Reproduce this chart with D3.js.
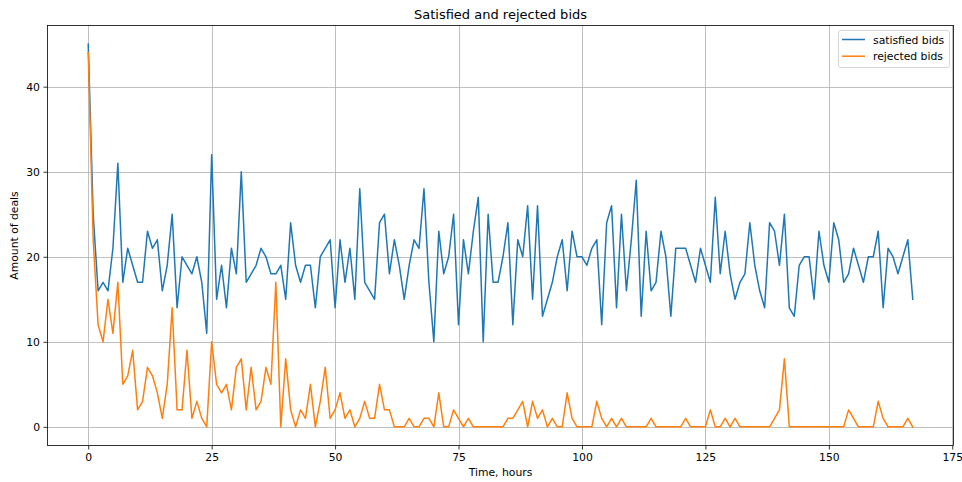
<!DOCTYPE html>
<html>
<head>
<meta charset="utf-8">
<script src="https://cdn.jsdelivr.net/npm/d3@7"></script>
<style>
  html, body { margin: 0; padding: 0; background: #fff; }
  svg { display: block; font-family: "DejaVu Sans", sans-serif; }
</style>
</head>
<body>
<svg id="chart" width="962" height="482"></svg>
<script>
// Hourly counts of bids, one value per hour starting at hour 0
const satisfiedBids = [
  45, 25, 16, 17, 16, 21, 31, 17, 21, 19, 17, 17, 23, 21, 22, 16, 19, 25, 14, 20,
  19, 18, 20, 17, 11, 32, 15, 19, 14, 21, 18, 30, 17, 18, 19, 21, 20, 18, 18, 19,
  15, 24, 19, 17, 19, 19, 14, 20, 21, 22, 14, 22, 17, 21, 15, 28, 17, 16, 15, 24,
  25, 18, 22, 19, 15, 19, 22, 21, 28, 17, 10, 23, 18, 20, 25, 12, 22, 18, 23, 27,
  10, 25, 17, 17, 20, 24, 12, 22, 20, 26, 15, 26, 13, 15, 17, 20, 22, 16, 23, 20,
  20, 19, 21, 22, 12, 24, 26, 14, 25, 16, 22, 29, 13, 23, 16, 17, 23, 20, 13, 21,
  21, 21, 19, 17, 21, 19, 17, 27, 18, 23, 18, 15, 17, 18, 24, 19, 16, 14, 24, 23,
  19, 25, 14, 13, 19, 20, 20, 15, 23, 19, 17, 24, 22, 17, 18, 21, 19, 17, 20, 20,
  23, 14, 21, 20, 18, 20, 22, 15
];
const rejectedBids = [
  44, 22, 12, 10, 15, 11, 17, 5, 6, 9, 2, 3, 7, 6, 4, 1, 5, 14, 2, 2,
  9, 1, 3, 1, 0, 10, 5, 4, 5, 2, 7, 8, 2, 7, 2, 3, 7, 5, 17, 0,
  8, 2, 0, 2, 1, 5, 0, 3, 7, 1, 2, 4, 1, 2, 0, 1, 3, 1, 1, 5,
  2, 2, 0, 0, 0, 1, 0, 0, 1, 1, 0, 4, 0, 0, 2, 1, 0, 1, 0, 0,
  0, 0, 0, 0, 0, 1, 1, 2, 3, 0, 3, 1, 2, 0, 1, 0, 0, 4, 1, 0,
  0, 0, 0, 3, 1, 0, 1, 0, 1, 0, 0, 0, 0, 0, 1, 0, 0, 0, 0, 0,
  0, 1, 0, 0, 0, 0, 2, 0, 0, 1, 0, 1, 0, 0, 0, 0, 0, 0, 0, 1,
  2, 8, 0, 0, 0, 0, 0, 0, 0, 0, 0, 0, 0, 0, 2, 1, 0, 0, 0, 0,
  3, 1, 0, 0, 0, 0, 1, 0
];
const seriesNames = ["satisfied bids", "rejected bids"];
const seriesColors = ["#1f77b4", "#ff7f0e"];
const xTicks = [0, 25, 50, 75, 100, 125, 150, 175];
const yTicks = [0, 10, 20, 30, 40];

const svg = d3.select("#chart");
const W = 962, H = 482;
const margin = { left: 47, right: 8, top: 25, bottom: 36 };
const plotL = margin.left, plotR = W - margin.right;
const plotT = margin.top, plotB = H - margin.bottom;
const baseFont = "10.8px";

// Axis limits padded by 5% of the data span on each side
const n = satisfiedBids.length;
const xMax = n - 1;
const xPad = xMax * 0.05;
const yMax = d3.max([d3.max(satisfiedBids), d3.max(rejectedBids)]);
const yPad = yMax * 0.05;

const x = d3.scaleLinear().domain([-xPad, xMax + xPad]).range([plotL, plotR]);
const y = d3.scaleLinear().domain([-yPad, yMax + yPad]).range([plotB, plotT]);

// Grid
const grid = svg.append("g").attr("stroke", "#b0b0b0").attr("stroke-width", 0.8);
grid.selectAll("line.vx").data(xTicks).join("line")
  .attr("x1", d => Math.round(x(d)) + 0.5).attr("x2", d => Math.round(x(d)) + 0.5)
  .attr("y1", plotT).attr("y2", plotB);
grid.selectAll("line.hy").data(yTicks).join("line")
  .attr("y1", d => Math.round(y(d)) + 0.5).attr("y2", d => Math.round(y(d)) + 0.5)
  .attr("x1", plotL).attr("x2", plotR);

// Series lines
const hours = d3.range(n);
const line = d3.line().x(d => x(d[0])).y(d => y(d[1]));
[satisfiedBids, rejectedBids].forEach((vals, i) => {
  svg.append("path")
    .datum(hours.map(h => [h, vals[h]]))
    .attr("fill", "none")
    .attr("stroke", seriesColors[i])
    .attr("stroke-width", 1.5)
    .attr("stroke-linejoin", "round")
    .attr("stroke-linecap", "square")
    .attr("d", line);
});

// Frame
svg.append("rect")
  .attr("x", plotL + 0.5).attr("y", plotT + 0.5)
  .attr("width", plotR - plotL - 1).attr("height", plotB - plotT - 1)
  .attr("fill", "none").attr("stroke", "#000").attr("stroke-width", 0.8);

// Axes
const xAxis = svg.append("g")
  .attr("transform", `translate(0,${plotB})`)
  .call(d3.axisBottom(x).tickValues(xTicks).tickSize(3.5).tickPadding(3.5).tickSizeOuter(0));
const yAxis = svg.append("g")
  .attr("transform", `translate(${plotL},0)`)
  .call(d3.axisLeft(y).tickValues(yTicks).tickSize(3.5).tickPadding(3.5).tickSizeOuter(0));
[xAxis, yAxis].forEach(g => {
  g.select(".domain").remove();
  g.selectAll(".tick line").attr("stroke", "#000").attr("stroke-width", 0.8);
  g.selectAll(".tick text").attr("fill", "#000")
    .style("font-family", "'DejaVu Sans', sans-serif").style("font-size", baseFont);
});

// Titles
svg.append("text")
  .attr("x", (plotL + plotR) / 2).attr("y", 18.5)
  .attr("text-anchor", "middle")
  .style("font-size", "13px").attr("fill", "#000")
  .text("Satisfied and rejected bids");
svg.append("text")
  .attr("x", (plotL + plotR) / 2).attr("y", 476)
  .attr("text-anchor", "middle")
  .style("font-size", baseFont).attr("fill", "#000")
  .text("Time, hours");
svg.append("text")
  .attr("transform", `translate(18,${(plotT + plotB) / 2}) rotate(-90)`)
  .attr("text-anchor", "middle")
  .style("font-size", baseFont).attr("fill", "#000")
  .text("Amount of deals");

// Legend
const legend = svg.append("g").attr("transform", `translate(${plotR - 116},${plotT + 5})`);
legend.append("rect")
  .attr("x", 0.5).attr("y", 0.5).attr("width", 111).attr("height", 37)
  .attr("rx", 2.5).attr("fill", "#fff").attr("fill-opacity", 0.8)
  .attr("stroke", "#cccccc").attr("stroke-width", 0.8);
seriesNames.forEach((name, i) => {
  const ly = 9.5 + i * 16.7;
  legend.append("line")
    .attr("x1", 4).attr("x2", 27).attr("y1", ly).attr("y2", ly)
    .attr("stroke", seriesColors[i]).attr("stroke-width", 1.5);
  legend.append("text")
    .attr("x", 35).attr("y", ly + 4)
    .style("font-size", baseFont).attr("fill", "#000")
    .text(name);
});
</script>
</body>
</html>
